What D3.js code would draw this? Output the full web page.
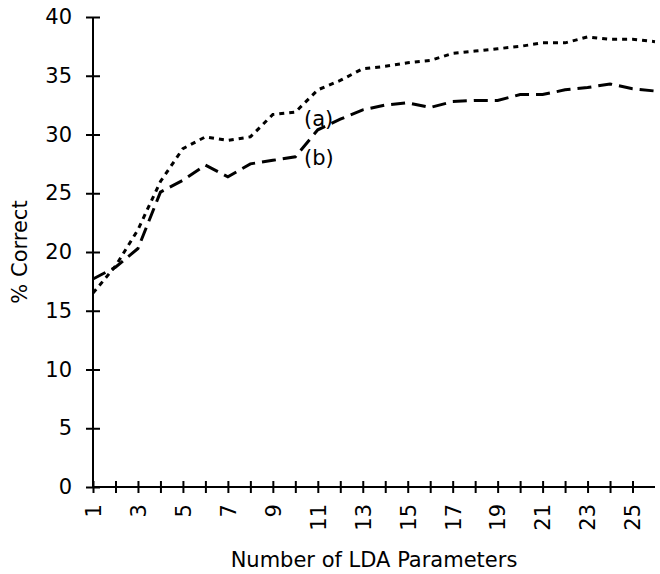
<!DOCTYPE html>
<html lang="en">
<head>
<meta charset="UTF-8">
<title>LDA parameters</title>
<script src="https://d3js.org/d3.v7.min.js"></script>
<style>
  body { margin: 0; background: #fff; }
  text { font-family: "DejaVu Sans", Verdana, sans-serif; fill: #000; }
</style>
</head>
<body>
<script>
    // number of LDA parameters
    var params = d3.range(1, 27);
    // (a) dotted curve
    var series_a = [16.5, 18.8, 21.9, 26.0, 28.8, 29.8, 29.5, 29.8, 31.7, 31.9, 33.8, 34.6, 35.6,
                    35.8, 36.1, 36.3, 36.9, 37.1, 37.3, 37.5, 37.8, 37.8, 38.3, 38.1, 38.1, 37.9];
    // (b) long dashed curve
    var series_b = [17.7, 18.7, 20.3, 25.1, 26.1, 27.4, 26.4, 27.5, 27.8, 28.1, 30.4, 31.3, 32.1,
                    32.5, 32.7, 32.3, 32.8, 32.9, 32.9, 33.4, 33.4, 33.8, 34.0, 34.3, 33.9, 33.7];
    var yTicks = [0, 5, 10, 15, 20, 25, 30, 35, 40];
    var xTicks = d3.range(1, 26);

    var width = 660, height = 574;
    var fs = 21;
    var svg = d3.select("body").append("svg")
        .attr("width", width)
        .attr("height", height);

    var x = d3.scaleLinear().domain([1, 26]).range([93, 655]);
    var y = d3.scaleLinear().domain([0, 40]).range([487, 17]);

    // y axis
    var gy = svg.append("g")
        .attr("transform", "translate(93,0)")
        .call(d3.axisLeft(y).tickValues(yTicks).tickSize(7).tickPadding(14));
    gy.attr("font-size", fs).attr("font-family", null);
    gy.select(".domain").attr("stroke-width", 2).attr("d", "M0," + y(0) + "V" + y(40));
    gy.selectAll(".tick line").attr("x1", -7).attr("x2", 7).attr("stroke-width", 2);

    // x axis
    var gx = svg.append("g")
        .attr("transform", "translate(0," + y(0) + ")")
        .call(d3.axisBottom(x).tickValues(xTicks).tickSize(7)
            .tickFormat(function (d) { return d % 2 == 1 ? d : ""; }));
    gx.attr("font-size", fs).attr("font-family", null);
    gx.select(".domain").attr("stroke-width", 2).attr("d", "M" + x(1) + ",0H" + x(26));
    gx.selectAll(".tick line").attr("y1", -6).attr("y2", 6).attr("stroke-width", 2);
    gx.selectAll(".tick text")
        .attr("text-anchor", "end")
        .attr("transform", "rotate(-90)")
        .attr("x", -17).attr("y", 0).attr("dy", "0.35em");

    // axis titles
    svg.append("text")
        .attr("x", (x(1) + x(26)) / 2)
        .attr("y", 567)
        .attr("text-anchor", "middle")
        .attr("font-size", fs)
        .text("Number of LDA Parameters");
    svg.append("text")
        .attr("transform", "translate(27,252) rotate(-90)")
        .attr("text-anchor", "middle")
        .attr("font-size", fs)
        .text("% Correct");

    var line = d3.line()
        .x(function (d) { return x(d[0]); })
        .y(function (d) { return y(d[1]); });

    svg.append("path")
        .datum(params.map(function (p, i) { return [p, series_a[i]]; }))
        .attr("d", line)
        .attr("fill", "none")
        .attr("stroke", "#000")
        .attr("stroke-width", 3)
        .attr("stroke-dasharray", "5,5");

    svg.append("path")
        .datum(params.map(function (p, i) { return [p, series_b[i]]; }))
        .attr("d", line)
        .attr("fill", "none")
        .attr("stroke", "#000")
        .attr("stroke-width", 3)
        .attr("stroke-dasharray", "14,7");

    // curve labels
    svg.append("text").attr("x", 304).attr("y", 126).attr("font-size", fs).text("(a)");
    svg.append("text").attr("x", 304).attr("y", 165).attr("font-size", fs).text("(b)");
</script>
</body>
</html>
